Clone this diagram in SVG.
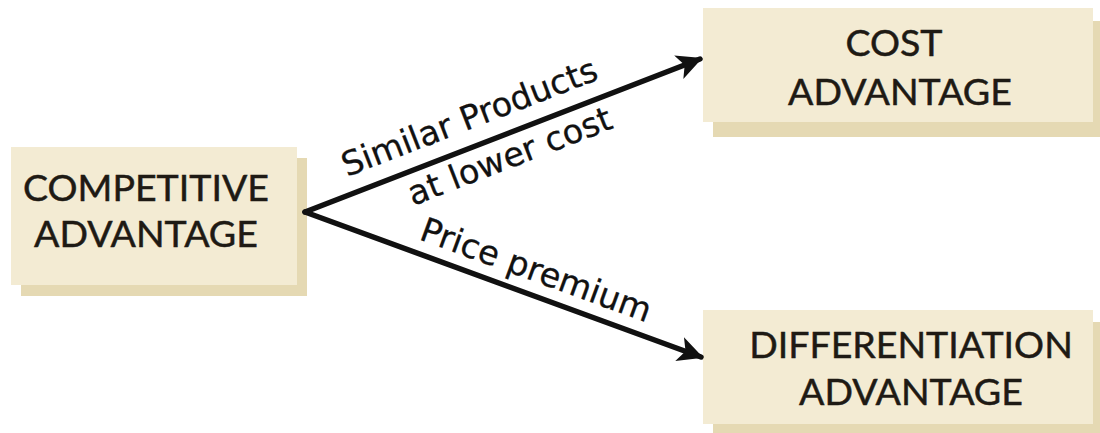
<svg xmlns="http://www.w3.org/2000/svg" width="1100" height="433" viewBox="0 0 1100 433">
  <style>
    .box { fill: #f3ebd3; }
    .shadow { fill: #e5d9b3; }
    .node-text { font-family: Lato, "Open Sans", sans-serif; font-size: 37.5px; fill: #1e1a14; stroke: #1e1a14; stroke-width: 0.5; text-anchor: middle; }
    .edge-label { font-family: "DejaVu Sans", Verdana, sans-serif; font-size: 33.5px; fill: #111; stroke: #111; stroke-width: 0.3; }
    .edge { stroke: #111; stroke-width: 5.5; fill: none; stroke-linecap: round; }
  </style>
  <defs>
    <marker id="arrow" viewBox="0 0 10 10" refX="9" refY="5" markerWidth="4.6" markerHeight="4.6" orient="auto" markerUnits="strokeWidth">
      <path d="M0,0 L10,5 L0,10 L2.5,5 Z" fill="#111"/>
    </marker>
  </defs>
  <rect width="1100" height="433" fill="#ffffff"/>

  <g id="competitive-advantage">
    <rect class="shadow" x="21" y="158" width="286" height="138"/>
    <rect class="box" x="11" y="147" width="286" height="138"/>
    <text class="node-text" x="146" y="201">COMPETITIVE</text>
    <text class="node-text" x="146" y="247">ADVANTAGE</text>
  </g>

  <g id="cost-advantage">
    <rect class="shadow" x="713" y="21" width="390" height="116"/>
    <rect class="box" x="703" y="8" width="390" height="114"/>
    <text class="node-text" x="894" y="56">COST</text>
    <text class="node-text" x="900" y="105">ADVANTAGE</text>
  </g>

  <g id="differentiation-advantage">
    <rect class="shadow" x="713" y="322" width="390" height="116"/>
    <rect class="box" x="703" y="310" width="390" height="114"/>
    <text class="node-text" x="911" y="358">DIFFERENTIATION</text>
    <text class="node-text" x="911" y="405">ADVANTAGE</text>
  </g>

  <g id="connectors">
    <line class="edge" x1="305" y1="212" x2="700" y2="59" marker-end="url(#arrow)"/>
    <line class="edge" x1="305" y1="212" x2="701" y2="357" marker-end="url(#arrow)"/>
    <text class="edge-label" transform="translate(347,177) rotate(-21.2)">Similar Products</text>
    <text class="edge-label" transform="translate(413,206) rotate(-21.2)">at lower cost</text>
    <text class="edge-label" transform="translate(418,239) rotate(20.1)">Price premium</text>
  </g>
</svg>
